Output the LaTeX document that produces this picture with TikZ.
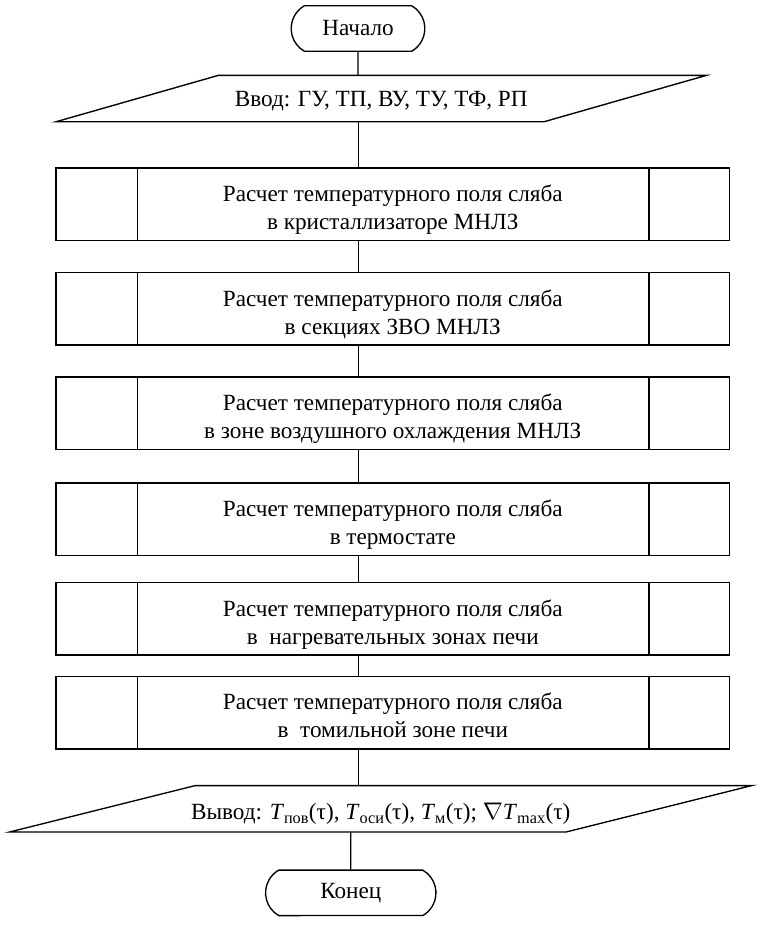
\documentclass[tikz,border=0pt]{standalone}
\usepackage{fontspec}
\setmainfont{Liberation Serif}
\usetikzlibrary{shapes.misc}

\tikzset{
    line/.style={line width=1.4pt},
    term/.style={line, draw, rounded rectangle, rounded rectangle arc length=120, minimum height=47pt},
    procbox/.style={line, draw, minimum width=697pt, minimum height=75pt},
    boxtext/.style={align=center, anchor=north, inner sep=0pt}
}

\begin{document}
\begin{tikzpicture}[x=1pt, y=-1pt, font=\fontsize{24}{29}\selectfont]
    \useasboundingbox (0,0) rectangle (800,979);
    \coordinate (trunk) at (371,0);

    % Start and input
    \node[term, minimum width=145pt] (start) at (370.5,29.5) {Начало};
    \coordinate (inTL) at (226,78);
    \coordinate (inTR) at (731,78);
    \coordinate (inBR) at (563,126);
    \coordinate (inBL) at (58,126);
    \draw[line] (inTL) -- (inTR) -- (inBR) -- (inBL) -- cycle;
    \node[anchor=base] (in) at (394.5,110) {Ввод: ГУ, ТП, ВУ, ТУ, ТФ, РП};

    % Process boxes (predefined process, two inner bars)
    \foreach \n/\y in {1/211.5, 2/319.5, 3/427.5, 4/537.5, 5/640.5, 6/737.5}
    {
        \node[procbox] (b\n) at (406.5,\y) {};
        \draw[line] ([xshift=85pt]b\n.north west) -- ([xshift=85pt]b\n.south west);
        \draw[line] ([xshift=-84pt]b\n.north east) -- ([xshift=-84pt]b\n.south east);
    }
    \node[boxtext] (t1) at ([yshift=-18pt]b1.north) {Расчет температурного поля сляба\\в кристаллизаторе МНЛЗ};
    \node[boxtext] (t2) at ([yshift=-18pt]b2.north) {Расчет температурного поля сляба\\в секциях ЗВО МНЛЗ};
    \node[boxtext] (t3) at ([yshift=-18pt]b3.north) {Расчет температурного поля сляба\\в зоне воздушного охлаждения МНЛЗ};
    \node[boxtext] (t4) at ([yshift=-18pt]b4.north) {Расчет температурного поля сляба\\в термостате};
    \node[boxtext] (t5) at ([yshift=-18pt]b5.north) {Расчет температурного поля сляба\\в~~нагревательных зонах печи};
    \node[boxtext] (t6) at ([yshift=-18pt]b6.north) {Расчет температурного поля сляба\\в~~томильной зоне печи};

    % Output and end
    \coordinate (outTL) at (202,813);
    \coordinate (outTR) at (778,813);
    \coordinate (outBR) at (586,861);
    \coordinate (outBL) at (10,861);
    \draw[line] (outTL) -- (outTR) -- (outBR) -- (outBL) -- cycle;
    \node[anchor=base] (out) at (394,848) {Вывод: \textit{T}\textsubscript{пов}(τ), \textit{T}\textsubscript{оси}(τ), \textit{T}\textsubscript{м}(τ); $\nabla$\textit{T}\textsubscript{max}(τ)};
    \node[term, minimum width=183pt] (stop) at (363,924) {Конец};

    % Connectors
    \draw[line] (start) -- (start |- inTL);
    \draw[line] (trunk |- inBL) -- (trunk |- b1.north);
    \foreach \a/\b in {1/2, 2/3, 3/4, 4/5, 5/6}
        \draw[line] (trunk |- b\a.south) -- (trunk |- b\b.north);
    \draw[line] (trunk |- b6.south) -- (trunk |- outTL);
    \draw[line] (stop |- outBL) -- (stop);
\end{tikzpicture}
\end{document}
